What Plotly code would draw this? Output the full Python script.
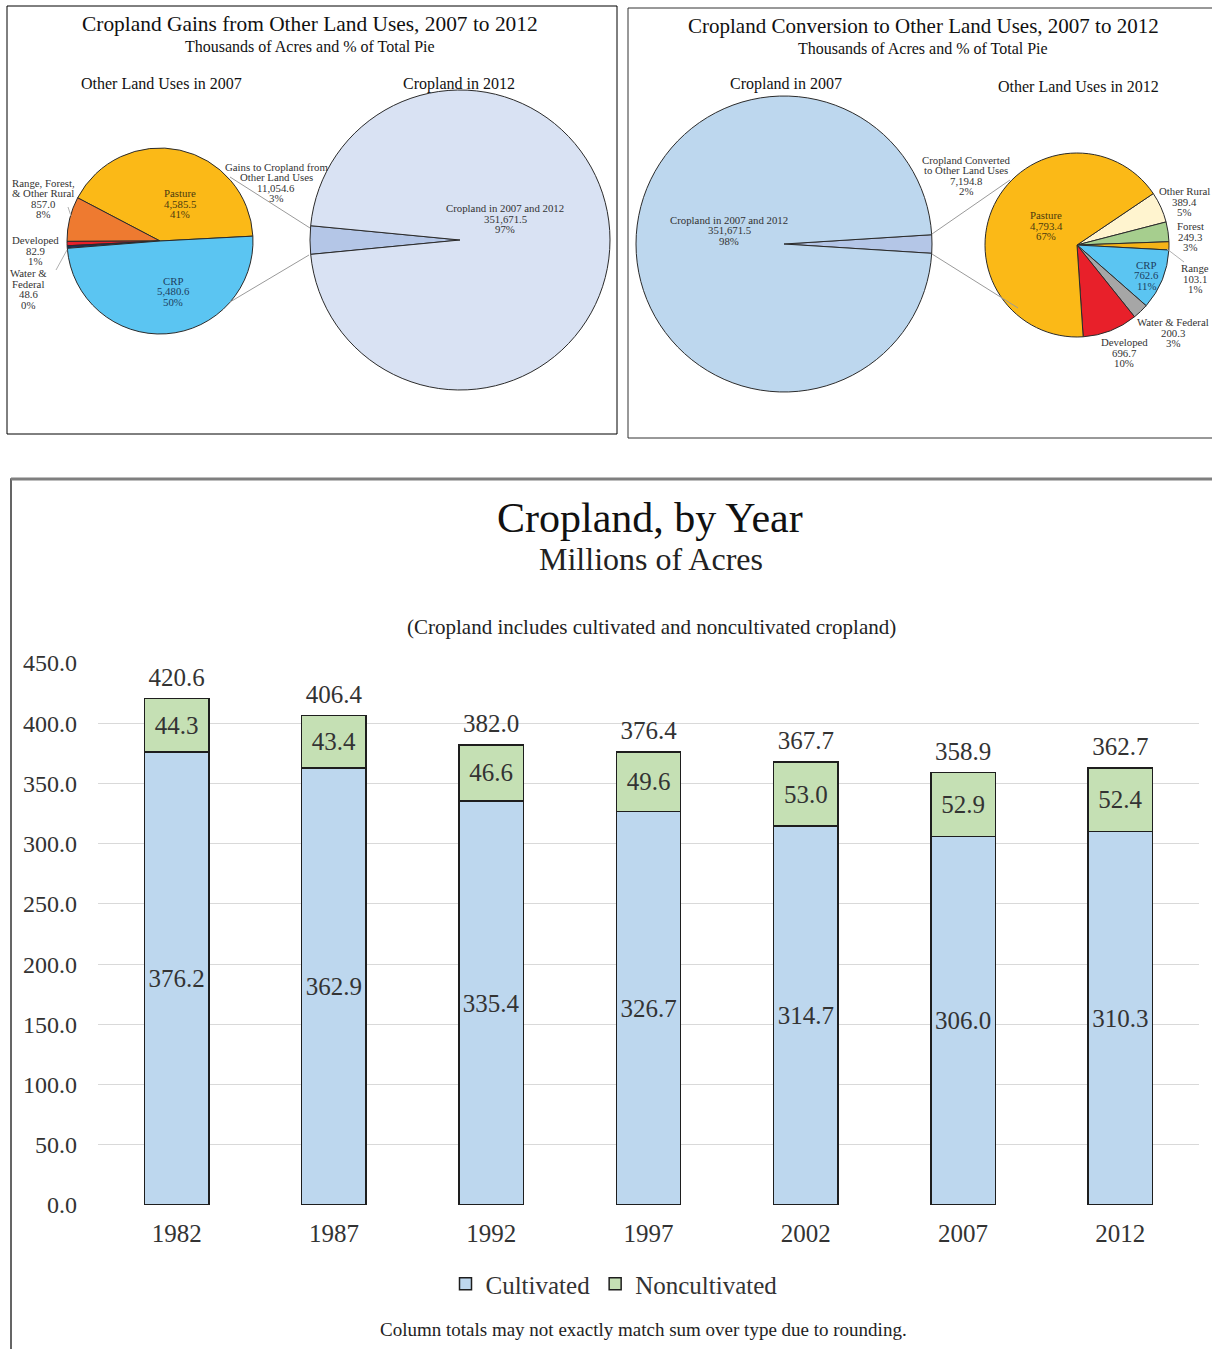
import plotly.graph_objects as go

W, H = 1212, 1349
FONT = "Liberation Serif"

# ---------------- data ----------------
years = ["1982", "1987", "1992", "1997", "2002", "2007", "2012"]
cultivated = [376.2, 362.9, 335.4, 326.7, 314.7, 306.0, 310.3]
noncultivated = [44.3, 43.4, 46.6, 49.6, 53.0, 52.9, 52.4]
totals = [420.6, 406.4, 382.0, 376.4, 367.7, 358.9, 362.7]
y_ticks = [0, 50, 100, 150, 200, 250, 300, 350, 400, 450]

# Cropland gains: other land uses in 2007 that became cropland by 2012 (thousand acres)
gain_sources = ["Pasture", "Range, Forest, & Other Rural", "Developed", "Water & Federal", "CRP"]
gain_values = [4585.5, 857.0, 82.9, 48.6, 5480.6]
gain_colors = ["#FBB917", "#EE7A30", "#E8202A", "#1F2F5C", "#5BC5F2"]
crop_2012_parts = ["Gains to Cropland from Other Land Uses", "Cropland in 2007 and 2012"]
crop_2012_values = [11054.6, 351671.5]

# Cropland conversion: cropland in 2007 that went to other uses by 2012 (thousand acres)
conv_targets = ["Other Rural", "Forest", "Range", "CRP", "Water & Federal", "Developed", "Pasture"]
conv_values = [389.4, 249.3, 103.1, 762.6, 200.3, 696.7, 4793.4]
conv_colors = ["#FFF4CF", "#A6CE8E", "#F5B317", "#5BC5F2", "#A6A6A6", "#E8202A", "#FBB917"]
crop_2007_parts = ["Cropland Converted to Other Land Uses", "Cropland in 2007 and 2012"]
crop_2007_values = [7194.8, 351671.5]


def px(x, y):
    """Pixel position on the page -> paper coordinates."""
    return x / W, 1 - y / H


def dom(cx, cy, r):
    x0, y1 = px(cx - r, cy - r)
    x1, y0 = px(cx + r, cy + r)
    return dict(x=[x0, x1], y=[y0, y1])


def pct(v, values):
    return round(100 * v / sum(values))


fig = go.Figure()

# ---------------- pies ----------------
OUT = dict(color="#2b2b2b", width=1)
# counterclockwise: the first slice lies clockwise of `rotation`, the rest follow counterclockwise
pasture_sweep = 360 * gain_values[0] / sum(gain_values)
fig.add_trace(go.Pie(values=gain_values, labels=gain_sources, marker=dict(colors=gain_colors, line=OUT),
                     sort=False, direction="counterclockwise", rotation=87 - pasture_sweep,
                     textinfo="none", hoverinfo="label+value+percent",
                     domain=dom(160, 241, 93), showlegend=False))
fig.add_trace(go.Pie(values=crop_2012_values, labels=crop_2012_parts,
                     marker=dict(colors=["#B4C6E7", "#D9E2F3"], line=OUT),
                     sort=False, direction="clockwise", rotation=264.5, textinfo="none",
                     domain=dom(460, 240, 150), showlegend=False))
fig.add_trace(go.Pie(values=crop_2007_values, labels=crop_2007_parts,
                     marker=dict(colors=["#B4C6E7", "#BDD7EE"], line=OUT),
                     sort=False, direction="clockwise", rotation=86.4, textinfo="none",
                     domain=dom(784, 244, 148), showlegend=False))
fig.add_trace(go.Pie(values=conv_values, labels=conv_targets, marker=dict(colors=conv_colors, line=OUT),
                     sort=False, direction="clockwise", rotation=56, textinfo="none",
                     domain=dom(1077, 245, 92), showlegend=False))

# ---------------- stacked bars ----------------
BAR_LINE = dict(color="#1e1e1e", width=1.5)
BAR_TXT = dict(family=FONT, size=25, color="#333333")
fig.add_trace(go.Bar(x=years, y=cultivated, name="Cultivated",
                     marker=dict(color="#BDD7EE", line=BAR_LINE),
                     text=[f"{v:.1f}" for v in cultivated], textposition="inside",
                     insidetextanchor="middle", constraintext="none", textfont=BAR_TXT))
fig.add_trace(go.Bar(x=years, y=noncultivated, name="Noncultivated",
                     marker=dict(color="#C5E0B4", line=BAR_LINE),
                     text=[f"{v:.1f}" for v in noncultivated], textposition="inside",
                     insidetextanchor="middle", constraintext="none", textfont=BAR_TXT))
# column totals sit above each stack (invisible marker keeps the text clear of the bar top)
fig.add_trace(go.Scatter(x=years, y=totals, mode="markers+text", text=[f"{v:.1f}" for v in totals],
                         marker=dict(size=9, color="rgba(0,0,0,0)"),
                         textposition="top center", cliponaxis=False, showlegend=False,
                         hoverinfo="skip", textfont=BAR_TXT))

xd0, _ = px(98, 0)
xd1, _ = px(1199, 0)
_, yd0 = px(0, 1205)
_, yd1 = px(0, 663)

fig.update_layout(
    width=W, height=H, margin=dict(l=0, r=0, t=0, b=0, pad=0, autoexpand=False),
    paper_bgcolor="white", plot_bgcolor="white",
    font=dict(family=FONT, color="#333333"),
    barmode="stack", bargap=0.59,
    xaxis=dict(domain=[xd0, xd1], type="category", showgrid=False, showline=False, zeroline=False,
               automargin=False, ticks="", tickfont=dict(size=25, color="#333333"),
               ticklabelstandoff=11),
    yaxis=dict(domain=[yd0, yd1], range=[0, 450], tickvals=y_ticks, automargin=False,
               ticktext=[f"{v:.1f}" for v in y_ticks], showgrid=True, gridcolor="#D9D9D9",
               gridwidth=1, zeroline=False, showline=False, ticks="",
               tickfont=dict(size=24, color="#333333"), ticklabelstandoff=20),
    legend=dict(orientation="h", x=px(614, 0)[0], y=px(0, 1284)[1], xanchor="center", yanchor="middle",
                font=dict(size=25, color="#333333"), itemwidth=30, traceorder="normal",
                bgcolor="rgba(0,0,0,0)"),
)

annotations = []
shapes = []


def text(x, y, s, size, color="#222222"):
    ax, ay = px(x, y)
    annotations.append(dict(x=ax, y=ay, xref="paper", yref="paper", text=s, showarrow=False,
                            xanchor="center", yanchor="middle",
                            font=dict(family=FONT, size=size, color=color)))


def block(x, y_top, lines, size=10.8, step=10.5, color="#333333"):
    for i, ln in enumerate(lines):
        text(x, y_top + i * step, ln, size, color)


def line(x0, y0, x1, y1, color="#9a9a9a", width=1):
    a0, b0 = px(x0, y0)
    a1, b1 = px(x1, y1)
    shapes.append(dict(type="line", xref="paper", yref="paper", x0=a0, y0=b0, x1=a1, y1=b1,
                       line=dict(color=color, width=width)))


def rect(x0, y0, x1, y1, color="black", width=1):
    a0, b0 = px(x0, y0)
    a1, b1 = px(x1, y1)
    shapes.append(dict(type="rect", xref="paper", yref="paper", x0=a0, y0=b0, x1=a1, y1=b1,
                       line=dict(color=color, width=width), layer="below"))


# panel frames
rect(7, 6, 617, 434)
rect(628, 8, 1230, 438, color="#333333")
rect(11, 479, 1230, 1370, color="#333333", width=1.5)
line(11, 479, 1212, 479, color="#7f7f7f", width=3)

# ---- left panel text ----
text(310, 24, "Cropland Gains from Other Land Uses, 2007 to 2012", 21.4, "#111111")
text(310, 47, "Thousands of Acres and % of Total Pie", 16, "#111111")
text(161, 84, "Other Land Uses in 2007", 16, "#111111")
text(459, 84, "Cropland in 2012", 16, "#111111")

gv = dict(zip(gain_sources, gain_values))
block(180, 193, ["Pasture", f"{gv['Pasture']:,.1f}", f"{pct(gv['Pasture'], gain_values)}%"], color="#4a3a10")
block(173, 281, ["CRP", f"{gv['CRP']:,.1f}", f"{pct(gv['CRP'], gain_values)}%"], color="#1d4060")
block(43, 183, ["Range, Forest,", "& Other Rural", f"{gv['Range, Forest, & Other Rural']:,.1f}",
                f"{pct(gv['Range, Forest, & Other Rural'], gain_values)}%"])
block(35, 240, ["Developed", f"{gv['Developed']:,.1f}", f"{pct(gv['Developed'], gain_values)}%"])
block(28, 273, ["Water &", "Federal", f"{gv['Water & Federal']:,.1f}",
                f"{pct(gv['Water & Federal'], gain_values)}%"])
block(276, 167, ["Gains to Cropland from", "Other Land Uses", f"{crop_2012_values[0]:,.1f}",
                 f"{pct(crop_2012_values[0], crop_2012_values)}%"])
block(505, 208, ["Cropland in 2007 and 2012", f"{crop_2012_values[1]:,.1f}",
                 f"{pct(crop_2012_values[1], crop_2012_values)}%"])
line(230, 177, 310, 228)
line(230, 302, 309, 255)
line(68, 207, 71, 216, color="#b0b0b0")
line(56, 270, 67, 250, color="#b0b0b0")

# ---- right panel text ----
text(923, 26, "Cropland Conversion to Other Land Uses, 2007 to 2012", 21, "#111111")
text(923, 48, "Thousands of Acres and % of Total Pie", 16, "#111111")
text(786, 84, "Cropland in 2007", 16, "#111111")
text(1078, 87, "Other Land Uses in 2012", 16, "#111111")

cv = dict(zip(conv_targets, conv_values))
block(729, 220, ["Cropland in 2007 and 2012", f"{crop_2007_values[1]:,.1f}",
                 f"{pct(crop_2007_values[1], crop_2007_values)}%"])
block(966, 160, ["Cropland Converted", "to Other Land Uses", f"{crop_2007_values[0]:,.1f}",
                 f"{pct(crop_2007_values[0], crop_2007_values)}%"])
block(1046, 215, ["Pasture", f"{cv['Pasture']:,.1f}", f"{pct(cv['Pasture'], conv_values)}%"], color="#4a3a10")
block(1184, 191, ["Other Rural", f"{cv['Other Rural']:,.1f}", f"{pct(cv['Other Rural'], conv_values)}%"])
block(1190, 226, ["Forest", f"{cv['Forest']:,.1f}", f"{pct(cv['Forest'], conv_values)}%"])
block(1195, 268, ["Range", f"{cv['Range']:,.1f}", f"{pct(cv['Range'], conv_values)}%"])
block(1146, 265, ["CRP", f"{cv['CRP']:,.1f}", f"{pct(cv['CRP'], conv_values)}%"], color="#1d4060")
block(1173, 322, ["Water & Federal", f"{cv['Water & Federal']:,.1f}",
                  f"{pct(cv['Water & Federal'], conv_values)}%"])
block(1124, 342, ["Developed", f"{cv['Developed']:,.1f}", f"{pct(cv['Developed'], conv_values)}%"])
line(932, 234, 1010, 180)
line(932, 254, 1018, 308)
line(1167, 249, 1184, 262, color="#b0b0b0")

# ---- bar chart text ----
text(650, 518, "Cropland, by Year", 42, "#111111")
text(651, 559, "Millions of Acres", 32, "#222222")
text(651, 627, "(Cropland includes cultivated and noncultivated cropland)", 21, "#222222")
text(643, 1329, "Column totals may not exactly match sum over type due to rounding.", 19, "#222222")

fig.update_layout(annotations=annotations, shapes=shapes)
fig.write_html("out.html")
